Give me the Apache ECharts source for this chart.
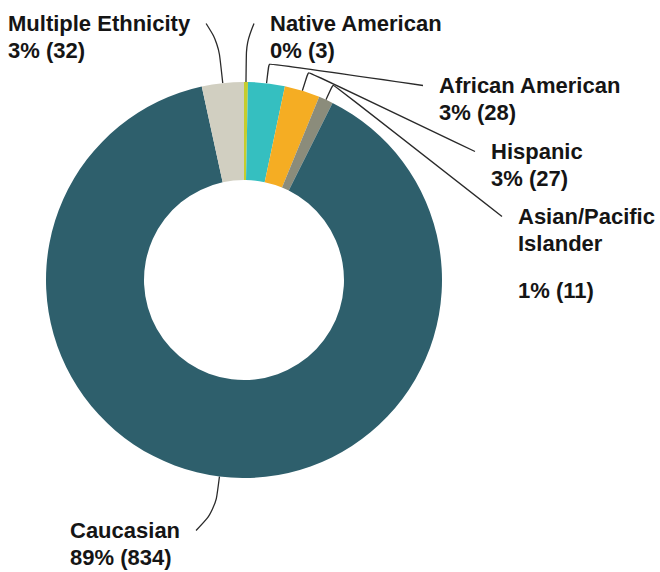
<!DOCTYPE html>
<html>
<head>
<meta charset="utf-8">
<script src="https://cdn.jsdelivr.net/npm/echarts@6/dist/echarts.min.js"></script>
<style>
  html, body { margin: 0; padding: 0; background: #ffffff; }
  #chart { width: 660px; height: 572px; }
</style>
</head>
<body>
<div id="chart"></div>
<script>
// Enrollment by ethnicity
const categories = ['Native American', 'African American', 'Hispanic', 'Asian/Pacific Islander', 'Caucasian', 'Multiple Ethnicity'];
const counts = [3, 28, 27, 11, 834, 32];
const sliceColors = ['#c6cd2d', '#35bfc0', '#f5ad23', '#8b8c7b', '#2e5f6c', '#d1cfc1'];

// Geometry of the ring
const CX = 244, CY = 280;
const R_INNER = 100, R_OUTER = 198;

// Text metrics
const FONT_SIZE = 22;
const LINE_H = 27;
const GAP = 16;

// Where each label's text block sits (top-left corner), which side of the text
// the leader line meets, and how far the leader runs straight out of the ring.
const labelSpots = {
  'Native American':        { x: 270, y: 10,  attach: 'left',  lead: 40, smooth: 0.35 },
  'African American':       { x: 439, y: 72,  attach: 'left',  lead: 20, smooth: 0.08 },
  'Hispanic':               { x: 491, y: 138, attach: 'left',  lead: 20, smooth: 0.08 },
  'Asian/Pacific Islander': { x: 518, y: 203, attach: 'left',  lead: 17, smooth: 0.08 },
  'Caucasian':              { x: 70,  y: 517, attach: 'right', lead: 34, smooth: 0.35 },
  'Multiple Ethnicity':     { x: 8,   y: 10,  attach: 'right', lead: 40, smooth: 0.35 }
};

const total = counts.reduce((a, b) => a + b, 0);

// Long names are wrapped at the last space and followed by a short spacer line.
function labelText(name, value) {
  const pct = Math.round(value / total * 100);
  let lines = [name];
  if (name.length > 18 && name.indexOf(' ') > 0) {
    const cut = name.lastIndexOf(' ');
    lines = [name.slice(0, cut), name.slice(cut + 1)];
  }
  let s = lines.map(l => '{n|' + l + '}').join('\n');
  if (lines.length > 1) s += '\n{g| }';
  s += '\n{n|' + pct + '% (' + value + ')}';
  return s;
}

const pieData = categories.map((name, i) => ({
  name: name,
  value: counts[i],
  itemStyle: { color: sliceColors[i] },
  labelLine: { smooth: labelSpots[name].smooth }
}));

const chart = echarts.init(document.getElementById('chart'), null, { renderer: 'svg' });

chart.setOption({
  animation: false,
  backgroundColor: '#ffffff',
  series: [{
    type: 'pie',
    center: [CX, CY],
    radius: [R_INNER, R_OUTER],
    startAngle: 90,
    clockwise: true,
    avoidLabelOverlap: false,
    silent: true,
    itemStyle: { borderWidth: 0 },
    data: pieData,
    label: {
      show: true,
      position: 'outside',
      formatter: p => labelText(p.name, p.value),
      color: '#151515',
      fontFamily: '"Liberation Sans", Arial, sans-serif',
      fontWeight: 'bold',
      fontSize: FONT_SIZE,
      lineHeight: LINE_H,
      rich: {
        n: {
          color: '#151515',
          fontFamily: '"Liberation Sans", Arial, sans-serif',
          fontWeight: 'bold',
          fontSize: FONT_SIZE,
          lineHeight: LINE_H
        },
        g: {
          fontSize: 8,
          lineHeight: 20
        }
      }
    },
    labelLine: {
      show: true,
      length: 12,
      length2: 10,
      lineStyle: { color: '#2a2a2a', width: 1.3 }
    },
    labelLayout: function (p) {
      const name = categories[p.dataIndex];
      const spot = labelSpots[name];
      const out = { x: spot.x, y: spot.y, align: 'left', verticalAlign: 'top' };
      const pts = p.labelLinePoints;
      if (pts && pts.length) {
        const start = pts[0];
        const dx = start[0] - CX, dy = start[1] - CY;
        const len = Math.hypot(dx, dy) || 1;
        const bend = [start[0] + dx / len * spot.lead, start[1] + dy / len * spot.lead];
        const midY = spot.y + LINE_H / 2;
        const w = p.labelRect.width;
        const end = spot.attach === 'left'
          ? [spot.x - GAP, midY]
          : [spot.x + w + GAP, midY];
        out.labelLinePoints = [start, bend, end];
      }
      return out;
    }
  }]
});
</script>
</body>
</html>
